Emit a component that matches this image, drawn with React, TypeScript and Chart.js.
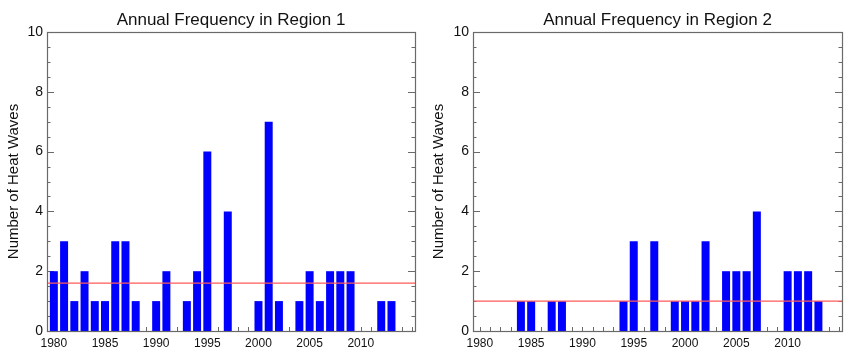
import React, { useEffect, useRef } from 'react';
import { Chart, registerables } from 'chart.js';

Chart.register(...registerables);

const YEARS = [
  1980, 1981, 1982, 1983, 1984, 1985, 1986, 1987, 1988, 1989,
  1990, 1991, 1992, 1993, 1994, 1995, 1996, 1997, 1998, 1999,
  2000, 2001, 2002, 2003, 2004, 2005, 2006, 2007, 2008, 2009,
  2010, 2011, 2012, 2013,
];
const REGION1 = [
  2, 3, 1, 2, 1, 1, 3, 3, 1, 0,
  1, 2, 0, 1, 2, 6, 0, 4, 0, 0,
  1, 7, 1, 0, 1, 2, 1, 2, 2, 2,
  0, 0, 1, 1,
];
const REGION2 = [
  0, 0, 0, 0, 1, 1, 0, 1, 1, 0,
  0, 0, 0, 0, 1, 3, 0, 3, 0, 1,
  1, 1, 3, 0, 2, 2, 2, 4, 0, 0,
  2, 2, 2, 1,
];
const MEAN1 = 1.6;
const MEAN2 = 1.0;
const TITLES = ['Annual Frequency in Region 1', 'Annual Frequency in Region 2'];
const Y_TITLE = 'Number of Heat Waves';
const X_TICKS = [1980, 1985, 1990, 1995, 2000, 2005, 2010];
const Y_TICKS = [0, 2, 4, 6, 8, 10];
const X_MIN = 1979.33;
const X_MAX = 2015.3;
const Y_MIN = 0;
const Y_MAX = 10;

const FONT = '"Liberation Sans", Arial, Helvetica, sans-serif';
const FRAME = '#6a6a6a';
const TEXT = '#111111';
const BAR = '#0000ff';
const MEAN_LINE = '#ff5a5a';

const framePlugin = {
  id: 'frame',
  beforeDatasetsDraw(chart: any) {
    const { ctx, chartArea: a, scales } = chart;
    const x = scales.x;
    const y = scales.y;
    ctx.save();
    ctx.strokeStyle = FRAME;
    ctx.lineWidth = 1;
    ctx.beginPath();
    for (let v = Y_MIN + 0.5; v < Y_MAX; v += 0.5) {
      const py = Math.round(y.getPixelForValue(v)) + 0.5;
      const len = v % 2 === 0 ? 7 : 3.5;
      ctx.moveTo(a.left, py);
      ctx.lineTo(a.left + len, py);
      ctx.moveTo(a.right, py);
      ctx.lineTo(a.right - len, py);
    }
    for (let yr = Math.ceil(X_MIN); yr <= Math.floor(X_MAX); yr++) {
      const px = Math.round(x.getPixelForValue(yr)) + 0.5;
      ctx.moveTo(px, a.bottom);
      ctx.lineTo(px, a.bottom - 4);
    }
    ctx.stroke();
    ctx.restore();
  },
  afterDatasetsDraw(chart: any, _args: any, opts: any) {
    const { ctx, chartArea: a } = chart;
    ctx.save();
    ctx.strokeStyle = FRAME;
    ctx.lineWidth = 1.2;
    ctx.strokeRect(Math.round(a.left) + 0.5, Math.round(a.top) + 0.5, Math.round(a.right - a.left), Math.round(a.bottom - a.top));
    ctx.fillStyle = TEXT;
    ctx.font = `17px ${FONT}`;
    ctx.textAlign = 'center';
    ctx.textBaseline = 'alphabetic';
    ctx.fillText(opts.title, (a.left + a.right) / 2, 25);
    ctx.restore();
  },
};

function ChartPanel({ title, values, mean, padRight, yWidth }: { title: string; values: number[]; mean: number; padRight: number; yWidth: number }) {
  const ref = useRef<HTMLCanvasElement | null>(null);
  useEffect(() => {
    document.body.style.margin = '0';
    if (!ref.current) return;
    const chart = new Chart(ref.current, {
      type: 'bar',
      data: {
        datasets: [
          {
            type: 'line',
            data: [
              { x: X_MIN, y: mean },
              { x: X_MAX, y: mean },
            ],
            borderColor: MEAN_LINE,
            borderWidth: 1.2,
            pointRadius: 0,
            order: 0,
          } as any,
          {
            type: 'bar',
            data: YEARS.map((yr, i) => ({ x: yr, y: values[i] })),
            backgroundColor: BAR,
            borderWidth: 0,
            barPercentage: 0.78,
            categoryPercentage: 1,
            order: 1,
          } as any,
        ],
      },
      options: {
        animation: false,
        responsive: false,
        events: [],
        layout: { padding: { top: 32, right: padRight, bottom: 0, left: 0 } },
        plugins: {
          legend: { display: false },
          tooltip: { enabled: false },
          title: { display: false },
          frame: { title },
        } as any,
        scales: {
          x: {
            type: 'linear',
            min: X_MIN,
            max: X_MAX,
            offset: false,
            grid: { display: false, drawTicks: false, offset: false },
            border: { display: false },
            afterBuildTicks: (s: any) => {
              s.ticks = X_TICKS.map((v) => ({ value: v }));
            },
            afterFit: (s: any) => {
              s.height = 21;
            },
            ticks: {
              autoSkip: false,
              maxRotation: 0,
              padding: 5,
              color: TEXT,
              font: { family: FONT, size: 12 },
              callback: (v: any) => String(v),
            },
          },
          y: {
            type: 'linear',
            min: Y_MIN,
            max: Y_MAX,
            grid: { display: false, drawTicks: false },
            border: { display: false },
            afterBuildTicks: (s: any) => {
              s.ticks = Y_TICKS.map((v) => ({ value: v }));
            },
            afterFit: (s: any) => {
              s.width = yWidth;
            },
            ticks: {
              padding: 4,
              color: TEXT,
              font: { family: FONT, size: 14 },
              callback: (v: any) => String(v),
            },
            title: {
              display: true,
              text: Y_TITLE,
              color: TEXT,
              font: { family: FONT, size: 15 },
              padding: { top: 5, bottom: 0 },
            },
          },
        },
      } as any,
      plugins: [framePlugin],
    });
    return () => chart.destroy();
  }, [title, values, mean, padRight, yWidth]);
  return <canvas ref={ref} width={425} height={352} style={{ display: 'block', width: 425, height: 352 }} />;
}

export default function App() {
  return (
    <div style={{ display: 'flex', width: 850, height: 352, background: '#fff' }}>
      <ChartPanel title={TITLES[0]} values={REGION1} mean={MEAN1} padRight={10} yWidth={47} />
      <ChartPanel title={TITLES[1]} values={REGION2} mean={MEAN2} padRight={8} yWidth={48} />
    </div>
  );
}
